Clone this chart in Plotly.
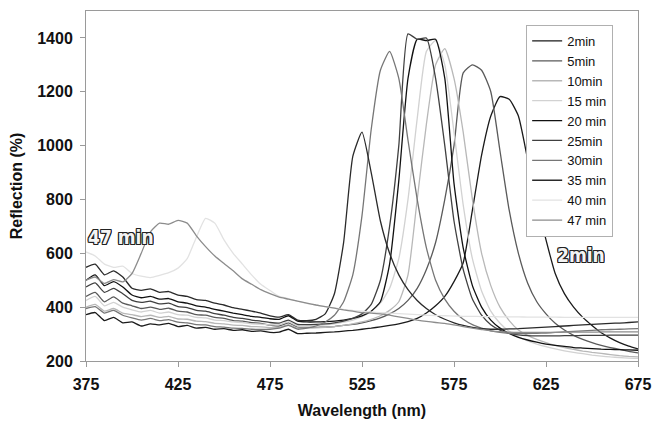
import plotly.graph_objects as go

wavelength = list(range(375, 676, 5))

series_names = ["2min", "5min", "10min", "15 min", "20 min", "25min", "30min", "35 min", "40 min", "47 min"]

r_2min = [372, 380, 350, 362, 342, 345, 330, 338, 334, 340,
          328, 332, 322, 325, 318, 320, 314, 316, 310, 312,
          306, 307, 318, 302, 303, 304, 306, 308, 311, 314,
          318, 322, 327, 332, 338, 346, 358, 378, 405, 440,
          495, 565, 760, 965, 1110, 1182, 1172, 1110, 950, 790,
          650, 525, 450, 400, 362, 332, 305, 285, 268, 255,
          245]
r_5min = [440, 455, 420, 438, 415, 405, 395, 400, 392, 396,
          385, 382, 372, 370, 362, 358, 350, 348, 342, 340,
          333, 330, 342, 326, 325, 325, 326, 328, 332, 336,
          342, 350, 360, 375, 395, 425, 470, 540, 640, 800,
          1000, 1270, 1300, 1280, 1200, 980, 760, 600, 490, 420,
          375, 340, 315, 295, 280, 268, 258, 250, 243, 236,
          230]
r_10min = [400, 410, 385, 395, 378, 372, 365, 370, 362, 366,
           356, 355, 348, 346, 340, 338, 333, 332, 328, 327,
           324, 325, 335, 322, 322, 323, 325, 328, 332, 338,
           345, 355, 368, 388, 420, 520, 800, 1080, 1300, 1360,
           1250, 1050, 800, 600, 480, 400, 350, 315, 295, 280,
           268, 258, 250, 243, 237, 232, 228, 224, 220, 217,
           215]
r_15min = [425, 440, 405, 418, 400, 390, 382, 388, 378, 382,
           372, 370, 362, 360, 352, 350, 345, 343, 338, 337,
           334, 335, 345, 330, 330, 331, 334, 338, 344, 352,
           365, 385, 415, 470, 580, 800, 1100, 1350, 1390, 1300,
           1050, 780, 580, 460, 385, 340, 310, 290, 275, 263,
           253, 245, 238, 232, 227, 222, 218, 215, 213, 211,
           210]
r_20min = [500, 520, 480, 495, 475, 445, 435, 440, 430, 432,
           420, 415, 405, 400, 392, 385, 378, 372, 366, 362,
           357, 355, 368, 348, 345, 345, 346, 348, 352, 358,
           368, 385, 420, 560, 870, 1250, 1395, 1390, 1395, 1250,
           860, 620, 480, 400, 352, 322, 302, 288, 278, 270,
           263, 258, 254, 250, 248, 246, 244, 243, 242, 241,
           240]
r_25min = [475, 490, 455, 470, 450, 425, 418, 422, 412, 415,
           402, 398, 388, 385, 376, 370, 362, 358, 352, 348,
           343, 341, 352, 336, 335, 336, 338, 342, 348, 358,
           375, 410, 500, 700, 1000, 1415, 1395, 1400, 1250, 1000,
           720, 540, 430, 370, 335, 315, 303, 297, 294, 293,
           293, 293, 294, 294, 295, 295, 295, 296, 296, 296,
           296]
r_30min = [395, 402, 378, 388, 370, 360, 352, 358, 350, 354,
           344, 342, 335, 334, 328, 326, 322, 321, 318, 317,
           318, 322, 332, 318, 322, 330, 345, 370, 420, 520,
           740, 1060, 1280, 1350, 1250, 1020, 800, 620, 500, 430,
           385, 355, 335, 322, 312, 306, 303, 302, 302, 303,
           304, 306, 308, 310, 312, 314, 316, 317, 318, 319,
           320]
r_35min = [548, 560, 520, 535, 512, 470, 462, 468, 455, 458,
           445, 440, 428, 425, 415, 408, 398, 392, 385, 378,
           368, 363, 372, 352, 350, 355, 375, 450, 640, 960,
           1050, 900, 720, 600, 520, 465, 425, 395, 372, 355,
           342, 332, 325, 320, 318, 318, 319, 320, 322, 324,
           326, 328, 330, 332, 334, 336, 338, 340, 341, 343,
           345]
r_40min = [605, 590, 560, 548, 552, 525, 515, 510, 518, 528,
           545, 580, 660, 730, 712, 650, 600, 560, 520, 485,
           462, 440, 432, 422, 414, 408, 402, 397, 392, 388,
           385, 382, 380, 378, 376, 374, 372, 370, 369, 368,
           367, 366, 366, 365, 365, 364, 364, 364, 363, 363,
           363, 363, 362, 362, 362, 362, 362, 362, 362, 362,
           362]
r_47min = [500, 512, 488, 502, 494, 525, 600, 680, 712, 708,
           722, 712, 665, 625, 590, 562, 535, 505, 485, 465,
           450, 437, 430, 422, 415, 408, 402, 396, 390, 385,
           380, 378, 375, 370, 364, 358, 352, 347, 343, 340,
           334, 328, 322, 317, 312, 309, 307, 306, 306, 306,
           306, 306, 307, 307, 307, 307, 308, 308, 308, 308,
           308]

series_values = [r_2min, r_5min, r_10min, r_15min, r_20min,
                 r_25min, r_30min, r_35min, r_40min, r_47min]
series_colors = ["#1a1a1a", "#5a5a5a", "#b8b8b8", "#d2d2d2", "#111111",
                 "#404040", "#767676", "#2a2a2a", "#e2e2e2", "#8c8c8c"]

x_ticks = [375, 425, 475, 525, 575, 625, 675]
y_ticks = [200, 400, 600, 800, 1000, 1200, 1400]

fig = go.Figure()
for name, vals, col in zip(series_names, series_values, series_colors):
    fig.add_trace(go.Scatter(x=wavelength, y=vals, mode="lines", name=name,
                             line=dict(color=col, width=1.3, shape="spline", smoothing=0.5)))

outline = ("1px 1px 0 #222, -1px -1px 0 #222, 1px -1px 0 #222, -1px 1px 0 #222, "
           "0 1px 0 #222, 0 -1px 0 #222, 1px 0 0 #222, -1px 0 0 #222")
label_font = dict(family="Liberation Sans Narrow, DejaVu Sans Condensed, sans-serif",
                  size=19, color="#f4f4f4", weight="bold", shadow=outline)
fig.add_annotation(x=394, y=660, text="47 min", showarrow=False, font=label_font)
fig.add_annotation(x=644, y=592, text="2min", showarrow=False, font=label_font)

tick_font = dict(family="Liberation Sans, Arial, sans-serif", size=16, color="#111", weight="bold")
title_font = dict(family="Liberation Sans, Arial, sans-serif", size=16, color="#111", weight="bold")
fig.update_layout(
    width=652, height=422,
    margin=dict(l=86, r=14, t=11, b=61, autoexpand=False),
    paper_bgcolor="white", plot_bgcolor="white",
    font=dict(family="Liberation Sans, Arial, sans-serif", color="#111"),
    xaxis=dict(range=[375, 675], tickvals=x_ticks, showgrid=False, zeroline=False,
               automargin=False,
               showline=True, mirror=True, linecolor="#9a9a9a", linewidth=1,
               ticks="outside", ticklen=5, tickcolor="#9a9a9a", tickfont=tick_font,
               ticklabelstandoff=4,
               title=dict(text="Wavelength (nm)", font=title_font, standoff=12)),
    yaxis=dict(range=[200, 1500], tickvals=y_ticks, showgrid=False, zeroline=False,
               automargin=False,
               showline=True, mirror=True, linecolor="#9a9a9a", linewidth=1,
               ticks="outside", ticklen=5, tickcolor="#9a9a9a", tickfont=tick_font,
               ticklabelstandoff=4,
               title=dict(text="Reflection (%)", font=title_font, standoff=10)),
    legend=dict(x=0.955, y=0.96, xanchor="right", yanchor="top",
                bgcolor="white", bordercolor="#b0b0b0", borderwidth=1,
                font=dict(family="Liberation Sans, Arial, sans-serif", size=13, color="#111"),
                tracegroupgap=0, itemwidth=30),
    showlegend=True,
)

fig.write_html("out.html", config={"displayModeBar": False},
               post_script="document.body.style.margin='0';")
